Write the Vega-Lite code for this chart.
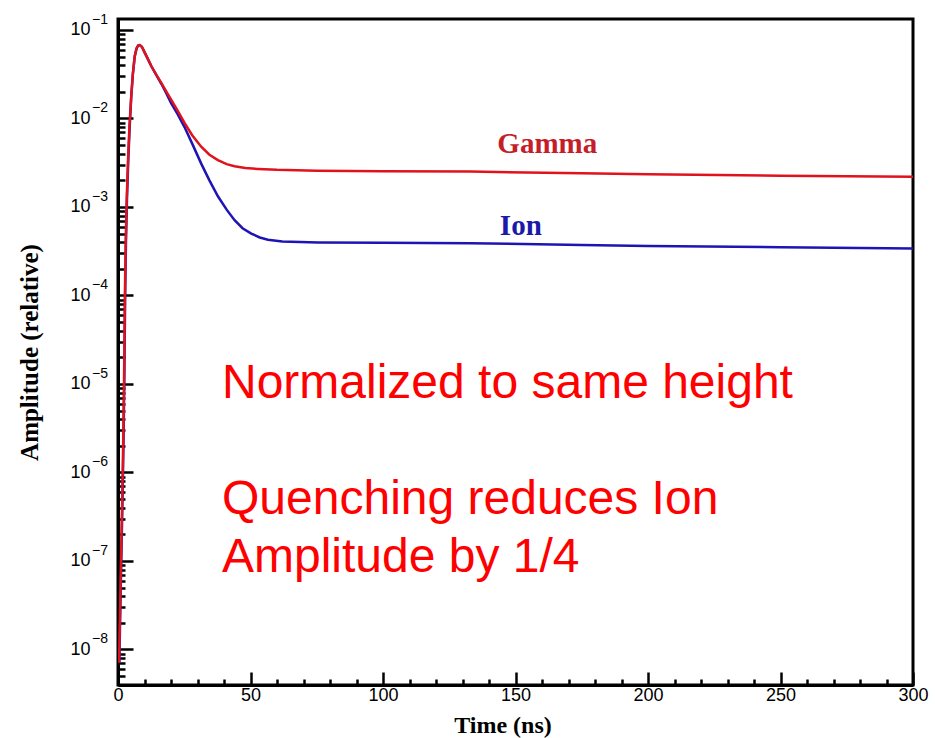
{
  "$schema": "https://vega.github.io/schema/vega-lite/v6.json",
  "width": 795,
  "height": 666,
  "autosize": {"type": "none"},
  "padding": {"left": 118, "top": 19, "right": 22, "bottom": 53},
  "background": "white",
  "config": {
    "view": {"stroke": "black", "strokeWidth": 3},
    "axis": {
      "domainColor": "black",
      "domainWidth": 3,
      "tickColor": "black",
      "tickWidth": 2.5,
      "grid": false,
      "labelColor": "black",
      "labelFont": "Liberation Sans",
      "titleColor": "black",
      "titleFont": "Liberation Serif",
      "titleFontWeight": "bold"
    }
  },
  "datasets": {
    "ion": [
      {"t": 0.5, "amp": 7.08e-9},
      {"t": 0.9, "amp": 3.16e-8},
      {"t": 1.3, "amp": 1.26e-7},
      {"t": 1.7, "amp": 5.01e-7},
      {"t": 2.1, "amp": 2.51e-6},
      {"t": 2.4, "amp": 1.26e-5},
      {"t": 2.7, "amp": 1.0e-4},
      {"t": 3.0, "amp": 3.98e-4},
      {"t": 3.4, "amp": 1.26e-3},
      {"t": 3.9, "amp": 3.55e-3},
      {"t": 4.4, "amp": 7.94e-3},
      {"t": 5.0, "amp": 0.0178},
      {"t": 5.6, "amp": 0.0316},
      {"t": 6.3, "amp": 0.0501},
      {"t": 7.0, "amp": 0.0617},
      {"t": 7.6, "amp": 0.0668},
      {"t": 8.2, "amp": 0.0676},
      {"t": 9.0, "amp": 0.0646},
      {"t": 10.0, "amp": 0.0562},
      {"t": 11.3, "amp": 0.0468},
      {"t": 12.6, "amp": 0.0389},
      {"t": 14.5, "amp": 0.0309},
      {"t": 16.4, "amp": 0.0245},
      {"t": 18.3, "amp": 0.0191},
      {"t": 20.1, "amp": 0.0148},
      {"t": 22.5, "amp": 0.0112},
      {"t": 25.1, "amp": 0.00800},
      {"t": 28.0, "amp": 0.00520},
      {"t": 31.4, "amp": 0.00309},
      {"t": 34.5, "amp": 0.00200},
      {"t": 37.7, "amp": 0.00132},
      {"t": 41.0, "amp": 0.000933},
      {"t": 44.0, "amp": 0.000708},
      {"t": 47.0, "amp": 0.000575},
      {"t": 50.3, "amp": 0.000501},
      {"t": 53.5, "amp": 0.000452},
      {"t": 56.6, "amp": 0.000427},
      {"t": 62.0, "amp": 0.000407},
      {"t": 75.5, "amp": 0.000398},
      {"t": 100, "amp": 0.000394},
      {"t": 133, "amp": 0.000389},
      {"t": 175, "amp": 0.000372},
      {"t": 200, "amp": 0.000363},
      {"t": 250, "amp": 0.000351},
      {"t": 300, "amp": 0.000339}
    ],
    "gamma": [
      {"t": 0.4, "amp": 7.08e-9},
      {"t": 0.8, "amp": 3.16e-8},
      {"t": 1.2, "amp": 1.26e-7},
      {"t": 1.6, "amp": 5.01e-7},
      {"t": 2.0, "amp": 2.51e-6},
      {"t": 2.3, "amp": 1.26e-5},
      {"t": 2.6, "amp": 1.0e-4},
      {"t": 2.9, "amp": 3.98e-4},
      {"t": 3.3, "amp": 1.26e-3},
      {"t": 3.8, "amp": 3.55e-3},
      {"t": 4.3, "amp": 7.94e-3},
      {"t": 5.0, "amp": 0.0178},
      {"t": 5.6, "amp": 0.0316},
      {"t": 6.3, "amp": 0.0501},
      {"t": 7.0, "amp": 0.0617},
      {"t": 7.6, "amp": 0.0668},
      {"t": 8.2, "amp": 0.0676},
      {"t": 9.0, "amp": 0.0646},
      {"t": 10.0, "amp": 0.0562},
      {"t": 11.3, "amp": 0.0468},
      {"t": 12.6, "amp": 0.0389},
      {"t": 14.5, "amp": 0.0309},
      {"t": 16.4, "amp": 0.0251},
      {"t": 18.3, "amp": 0.0200},
      {"t": 20.1, "amp": 0.0162},
      {"t": 22.5, "amp": 0.0123},
      {"t": 25.1, "amp": 0.00891},
      {"t": 28.0, "amp": 0.00646},
      {"t": 31.4, "amp": 0.00479},
      {"t": 34.5, "amp": 0.00389},
      {"t": 37.7, "amp": 0.00339},
      {"t": 41.0, "amp": 0.00305},
      {"t": 44.0, "amp": 0.00288},
      {"t": 48.0, "amp": 0.00275},
      {"t": 52.8, "amp": 0.00269},
      {"t": 60.0, "amp": 0.00263},
      {"t": 75.0, "amp": 0.00257},
      {"t": 100, "amp": 0.00254},
      {"t": 133, "amp": 0.00251},
      {"t": 175, "amp": 0.00240},
      {"t": 200, "amp": 0.00234},
      {"t": 250, "amp": 0.00226},
      {"t": 300, "amp": 0.00219}
    ],
    "exps": [
      {"amp": 0.1, "exp": "−1"},
      {"amp": 0.01, "exp": "−2"},
      {"amp": 0.001, "exp": "−3"},
      {"amp": 0.0001, "exp": "−4"},
      {"amp": 0.00001, "exp": "−5"},
      {"amp": 0.000001, "exp": "−6"},
      {"amp": 0.0000001, "exp": "−7"},
      {"amp": 0.00000001, "exp": "−8"}
    ],
    "labels": [
      {"label": "Gamma", "t": 162, "amp": 0.00405, "series": "Gamma"},
      {"label": "Ion", "t": 152, "amp": 0.000483, "series": "Ion"}
    ],
    "notes": [
      {"note": "Normalized to same height", "t": 39.25, "amp": 7.0e-6},
      {"note": "Quenching reduces Ion", "t": 39.25, "amp": 3.4e-7},
      {"note": "Amplitude by 1/4", "t": 39.25, "amp": 7.52e-8}
    ]
  },
  "layer": [
    {
      "data": {"name": "ion"},
      "mark": {"type": "line", "color": "#1E14B4", "strokeWidth": 2.5, "clip": true},
      "encoding": {
        "x": {
          "field": "t",
          "type": "quantitative",
          "scale": {"domain": [0, 300], "nice": false, "zero": false},
          "axis": {
            "title": "Time (ns)",
            "titleFontSize": 24,
            "titleX": 384.5,
            "titleY": 47,
            "titleBaseline": "alphabetic",
            "tickCount": 200,
            "values": [0,10,20,30,40,50,60,70,80,90,100,110,120,130,140,150,160,170,180,190,200,210,220,230,240,250,260,270,280,290,300],
            "labelExpr": "datum.value % 50 == 0 ? format(datum.value, 'd') : ''",
            "labelOverlap": "greedy",
            "labelFlush": false,
            "labelFontSize": 18,
            "labelPadding": 14,
            "tickSize": {"condition": {"test": "datum.value % 50 == 0", "value": -13}, "value": -6}
          }
        },
        "y": {
          "field": "amp",
          "type": "quantitative",
          "scale": {"type": "log", "domain": [3.97e-9, 0.133], "nice": false},
          "axis": {
            "title": "Amplitude (relative)",
            "titleFontSize": 25,
            "titleAngle": -90,
            "titleX": -89,
            "titleY": 333,
            "titleBaseline": "middle",
            "titleAlign": "center",
            "tickCount": 200,
            "values": [4e-9,5e-9,6e-9,7e-9,8e-9,9e-9,
                       1e-8,2e-8,3e-8,4e-8,5e-8,6e-8,7e-8,8e-8,9e-8,
                       1e-7,2e-7,3e-7,4e-7,5e-7,6e-7,7e-7,8e-7,9e-7,
                       1e-6,2e-6,3e-6,4e-6,5e-6,6e-6,7e-6,8e-6,9e-6,
                       1e-5,2e-5,3e-5,4e-5,5e-5,6e-5,7e-5,8e-5,9e-5,
                       1e-4,2e-4,3e-4,4e-4,5e-4,6e-4,7e-4,8e-4,9e-4,
                       1e-3,2e-3,3e-3,4e-3,5e-3,6e-3,7e-3,8e-3,9e-3,
                       1e-2,2e-2,3e-2,4e-2,5e-2,6e-2,7e-2,8e-2,9e-2,0.1],
            "labelExpr": "abs(log(datum.value)/LN10 - round(log(datum.value)/LN10)) < 0.001 ? '10' : ''",
            "labelOverlap": "greedy",
            "labelFontSize": 18,
            "labelPadding": 43,
            "tickSize": {"condition": {"test": "abs(log(datum.value)/LN10 - round(log(datum.value)/LN10)) < 0.001", "value": -15}, "value": -7}
          }
        }
      }
    },
    {
      "data": {"name": "gamma"},
      "mark": {"type": "line", "color": "#E0121C", "strokeWidth": 2.5, "clip": true},
      "encoding": {
        "x": {"field": "t", "type": "quantitative"},
        "y": {"field": "amp", "type": "quantitative"}
      }
    },
    {
      "data": {"name": "exps"},
      "mark": {"type": "text", "align": "left", "baseline": "middle", "dx": -26, "dy": -10, "fontSize": 14, "font": "Liberation Sans", "color": "black"},
      "encoding": {
        "x": {"datum": 0, "type": "quantitative"},
        "y": {"field": "amp", "type": "quantitative"},
        "text": {"field": "exp"}
      }
    },
    {
      "data": {"name": "labels"},
      "mark": {"type": "text", "align": "center", "baseline": "alphabetic", "font": "Liberation Serif", "fontWeight": "bold", "fontSize": 29},
      "encoding": {
        "x": {"field": "t", "type": "quantitative"},
        "y": {"field": "amp", "type": "quantitative"},
        "text": {"field": "label"},
        "color": {"field": "series", "type": "nominal", "scale": {"domain": ["Gamma", "Ion"], "range": ["#C41E2A", "#1A1AA8"]}, "legend": null}
      }
    },
    {
      "data": {"name": "notes"},
      "mark": {"type": "text", "align": "left", "baseline": "alphabetic", "font": "Liberation Sans", "fontSize": 48, "color": "#FF0000"},
      "encoding": {
        "x": {"field": "t", "type": "quantitative"},
        "y": {"field": "amp", "type": "quantitative"},
        "text": {"field": "note"}
      }
    }
  ]
}
